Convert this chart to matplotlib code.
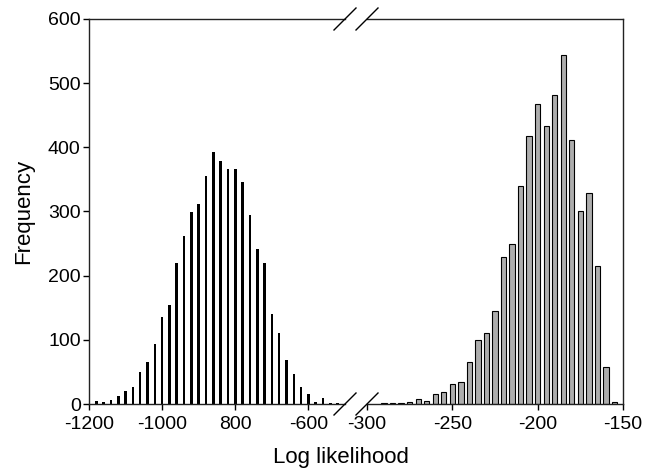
import matplotlib
matplotlib.use("Agg")
import matplotlib.pyplot as plt
from matplotlib.lines import Line2D

plt.rcParams['font.family'] = ['Liberation Sans', 'DejaVu Sans']

# Datos: histograma izquierdo (barras finas negras)
left_bins = [-1180, -1160, -1140, -1120, -1100, -1080, -1060, -1040, -1020, -1000,
             -980, -960, -940, -920, -900, -880, -860, -840, -820, -800,
             -780, -760, -740, -720, -700, -680, -660, -640, -620, -600,
             -580, -560, -540, -520]
left_counts = [5, 3, 6, 13, 20, 27, 50, 66, 93, 136,
               155, 219, 262, 299, 312, 355, 392, 379, 366, 367,
               346, 294, 242, 219, 141, 110, 69, 47, 26, 16,
               3, 9, 2, 2]

# Datos: histograma derecho (barras grises)
right_bins = [-290, -285, -280, -275, -270, -265, -260, -255, -250, -245,
              -240, -235, -230, -225, -220, -215, -210, -205, -200, -195,
              -190, -185, -180, -175, -170, -165, -160, -155]
right_counts = [1, 1, 1, 3, 8, 5, 15, 18, 31, 35,
                66, 99, 111, 145, 229, 249, 339, 417, 468, 433,
                481, 544, 412, 301, 329, 215, 57, 3]

left_ticks = [-1200, -1000, -800, -600]
left_ticklabels = ["-1200", "-1000", "800", "-600"]
right_ticks = [-300, -250, -200, -150]
right_ticklabels = ["-300", "-250", "-200", "-150"]
y_ticks = [0, 100, 200, 300, 400, 500, 600]

W, H = 659, 473
fig = plt.figure(figsize=(W / 100, H / 100), dpi=100)

bottom = (H - 404) / H
height = 385 / H
ax1 = fig.add_axes([89 / W, bottom, 256 / W, height])
ax2 = fig.add_axes([367 / W, bottom, 256 / W, height])

ax1.bar(left_bins, left_counts, width=7, color="black", linewidth=0)
ax2.bar(right_bins, right_counts, width=3.1, color="#adadad",
        edgecolor="black", linewidth=0.8)

ax1.set_xlim(-1200, -500)
ax2.set_xlim(-300, -150)
for ax in (ax1, ax2):
    ax.set_ylim(0, 600)
    for s in ax.spines.values():
        s.set_linewidth(1.0)
        s.set_color("#222222")
    ax.tick_params(direction="out", length=4, width=1.0, labelsize=14)
    ax.tick_params(axis="x", pad=4.5)
    ax.tick_params(axis="y", pad=2)

ax1.spines["right"].set_visible(False)
ax2.spines["left"].set_visible(False)
ax2.tick_params(axis="y", left=False, labelleft=False)

ax1.set_xticks(left_ticks)
ax1.set_xticklabels(left_ticklabels)
ax1.set_yticks(y_ticks)
ax2.set_xticks(right_ticks)
ax2.set_xticklabels(right_ticklabels)

fig.text(24 / W, 1 - 211 / H, "Frequency", fontsize=16, rotation=90,
         ha="center", va="center")
fig.text(341 / W, 1 - 457 / H, "Log likelihood", fontsize=16,
         ha="center", va="center")

# Marcas de corte del eje
for cx in (345, 367):
    for cy in (404, 19):
        fig.add_artist(Line2D([(cx - 11) / W, (cx + 11) / W],
                              [1 - (cy + 11) / H, 1 - (cy - 11) / H],
                              color="black", linewidth=1.0,
                              transform=fig.transFigure))

fig.savefig("out.png", dpi=100)
